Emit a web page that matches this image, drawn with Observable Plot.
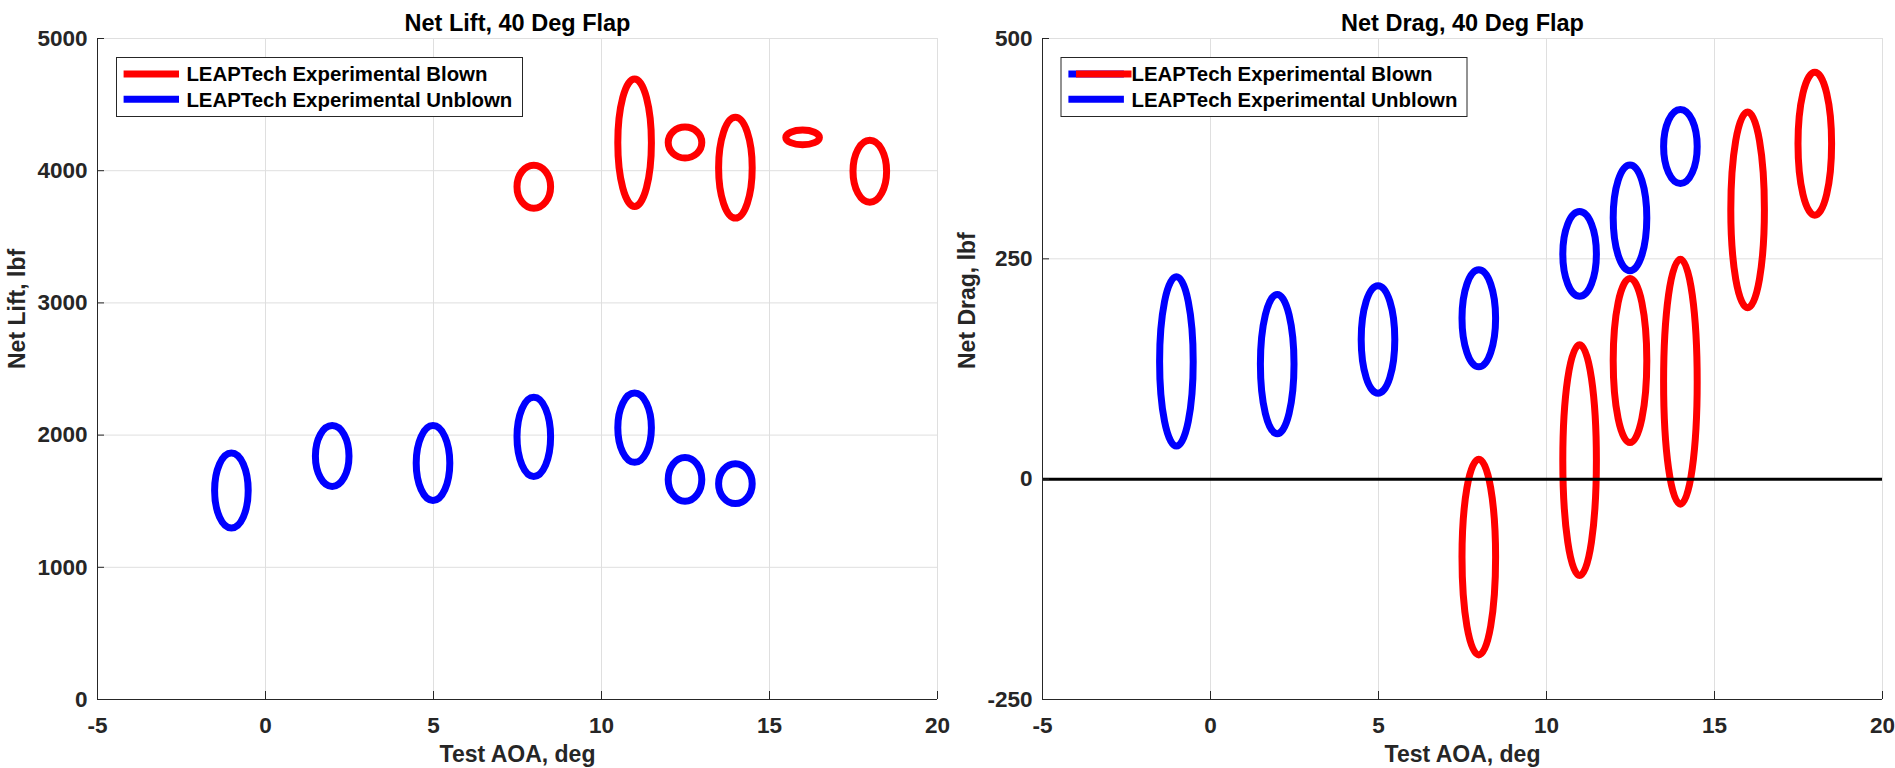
<!DOCTYPE html>
<html>
<head>
<meta charset="utf-8">
<script src="https://cdn.jsdelivr.net/npm/d3@7"></script>
<script src="https://cdn.jsdelivr.net/npm/@observablehq/plot@0.6"></script>
<style>
  html, body { margin: 0; padding: 0; background: #ffffff; }
  #wrap { position: relative; width: 1895px; height: 768px; overflow: hidden; background: #ffffff; }
  .panel { position: absolute; top: 0; }
  #overlay { position: absolute; left: 0; top: 0; pointer-events: none; }
</style>
</head>
<body>
<div id="wrap"></div>
<script>
// ---------- data ----------
const xDomain = [-5, 20];
const xTicks = [-5, 0, 5, 10, 15, 20];
const liftDomain = [0, 5000];
const liftTicks = [0, 1000, 2000, 3000, 4000, 5000];
const dragDomain = [-250, 500];
const dragTicks = [-250, 0, 250, 500];
const zeroLine = [0];

const seriesNames = ["LEAPTech Experimental Blown", "LEAPTech Experimental Unblown"];
const seriesColors = ["#ff0000", "#0000ff"];

// half-width of every uncertainty ellipse along AOA (deg)
const aoaHalfWidth = 0.5;

// Test AOA (deg) of each ellipse centre
const blownAoa = [8, 11, 12.5, 14, 16, 18];
const unblownAoa = [-1, 2, 5, 8, 11, 12.5, 14];

// Net lift (lbf): ellipse centre and vertical half-range
const liftBlownCenter = [3875, 4208, 4209, 4019, 4248, 3992];
const liftBlownHalf = [163, 482, 117, 381, 56, 234];
const liftUnblownCenter = [1577, 1838, 1785, 1983, 2052, 1661, 1629];
const liftUnblownHalf = [284, 230, 283, 299, 262, 166, 151];

// Net drag (lbf): ellipse centre and vertical half-range
const dragBlownCenter = [-89, 21, 134, 110, 305, 380];
const dragBlownHalf = [111, 131, 93, 139, 111, 81];
const dragUnblownCenter = [133, 130, 158, 182, 255, 296, 377];
const dragUnblownHalf = [96, 79, 61, 55, 48, 60, 42];

// ---------- drawing ----------
const FONT = '"Liberation Sans", Arial, Helvetica, sans-serif';
const AXIS_COLOR = "#262626";
const GRID_COLOR = "#dfdfdf";

function ellipseMark(aoa, center, half, color) {
  // custom render mark: uses Plot's own x / y scales
  return (index, scales) => {
    const g = d3.create("svg:g")
      .attr("fill", "none")
      .attr("stroke", color)
      .attr("stroke-width", 7);
    aoa.forEach((a, i) => {
      const cx = scales.x(a);
      const cy = scales.y(center[i]);
      g.append("ellipse")
        .attr("cx", cx)
        .attr("cy", cy)
        .attr("rx", Math.abs(scales.x(a + aoaHalfWidth) - cx))
        .attr("ry", Math.abs(scales.y(center[i] + half[i]) - cy));
    });
    return g.node();
  };
}

function panel({title, yLabel, yDomain, yTicks, blown, unblown, zero, yLabelDx}) {
  return Plot.plot({
    width: 950,
    height: 768,
    marginLeft: 97,
    marginRight: 13,
    marginTop: 38,
    marginBottom: 69,
    style: {background: "transparent", overflow: "visible", fontFamily: FONT, color: AXIS_COLOR},
    x: {domain: xDomain},
    y: {domain: yDomain},
    marks: [
      Plot.gridX({ticks: xTicks, stroke: GRID_COLOR, strokeOpacity: 1}),
      Plot.gridY({ticks: yTicks, stroke: GRID_COLOR, strokeOpacity: 1}),
      ellipseMark(blown.aoa, blown.center, blown.half, seriesColors[0]),
      ellipseMark(unblown.aoa, unblown.center, unblown.half, seriesColors[1]),
      zero ? Plot.ruleY(zero, {stroke: "#000000", strokeWidth: 3}) : null,
      Plot.ruleX([xDomain[0]], {stroke: AXIS_COLOR, strokeWidth: 1}),
      Plot.ruleY([yDomain[0]], {stroke: AXIS_COLOR, strokeWidth: 1}),
      Plot.axisX({ticks: xTicks, tickSize: -8, tickPadding: 26, tickFormat: d => String(d),
        fontSize: 22.5, fontWeight: "bold", label: null, stroke: AXIS_COLOR}),
      Plot.axisY({ticks: yTicks, tickSize: -7, tickPadding: 17, tickFormat: d => String(d),
        fontSize: 22.5, fontWeight: "bold", label: null, stroke: AXIS_COLOR}),
      Plot.text([title], {text: d => d, frameAnchor: "top", lineAnchor: "bottom", dy: -8,
        fontSize: 23.5, fontWeight: "bold", fill: "#000000"}),
      Plot.text(["Test AOA, deg"], {text: d => d, frameAnchor: "bottom", lineAnchor: "top", dy: 46,
        fontSize: 23, fontWeight: "bold", fill: AXIS_COLOR}),
      Plot.text([yLabel], {text: d => d, frameAnchor: "left", rotate: -90, dx: yLabelDx,
        fontSize: 23, fontWeight: "bold", fill: AXIS_COLOR})
    ]
  });
}

const wrap = document.getElementById("wrap");

const left = panel({
  title: "Net Lift, 40 Deg Flap",
  yLabel: "Net Lift, lbf",
  yDomain: liftDomain,
  yTicks: liftTicks,
  blown: {aoa: blownAoa, center: liftBlownCenter, half: liftBlownHalf},
  unblown: {aoa: unblownAoa, center: liftUnblownCenter, half: liftUnblownHalf},
  zero: null,
  yLabelDx: -80
});
left.classList.add("panel");
left.style.left = "0px";
wrap.appendChild(left);

const right = panel({
  title: "Net Drag, 40 Deg Flap",
  yLabel: "Net Drag, lbf",
  yDomain: dragDomain,
  yTicks: dragTicks,
  blown: {aoa: blownAoa, center: dragBlownCenter, half: dragBlownHalf},
  unblown: {aoa: unblownAoa, center: dragUnblownCenter, half: dragUnblownHalf},
  zero: zeroLine,
  yLabelDx: -75
});
right.classList.add("panel");
right.style.left = "945px";
wrap.appendChild(right);

// ---------- legends (overlay) ----------
const overlay = d3.select(wrap).append("svg")
  .attr("id", "overlay")
  .attr("width", 1895).attr("height", 768)
  .style("font-family", FONT);

function legend(boxX, lines, textX) {
  const g = overlay.append("g");
  g.append("rect").attr("x", boxX + 0.5).attr("y", 57.5).attr("width", 406).attr("height", 59)
    .attr("fill", "#ffffff").attr("stroke", AXIS_COLOR).attr("stroke-width", 1);
  lines.forEach(l => {
    g.append("line").attr("x1", l.x1).attr("x2", l.x2).attr("y1", l.y).attr("y2", l.y)
      .attr("stroke", l.color).attr("stroke-width", 7);
  });
  const rowsY = [74, 99.3];
  seriesNames.forEach((name, i) => {
    g.append("text").attr("x", textX).attr("y", rowsY[i] + 7.3)
      .attr("font-size", 20.4).attr("font-weight", "bold").attr("fill", "#000000")
      .text(name);
  });
}

legend(116, [
  {x1: 123.6, x2: 179, y: 74, color: seriesColors[0]},
  {x1: 123.6, x2: 179, y: 99.3, color: seriesColors[1]}
], 186.4);

legend(1060.5, [
  {x1: 1068.4, x2: 1123.9, y: 74, color: seriesColors[1]},
  {x1: 1076, x2: 1131.5, y: 74, color: seriesColors[0]},
  {x1: 1068.4, x2: 1123.9, y: 99.3, color: seriesColors[1]}
], 1131.5);
</script>
</body>
</html>
